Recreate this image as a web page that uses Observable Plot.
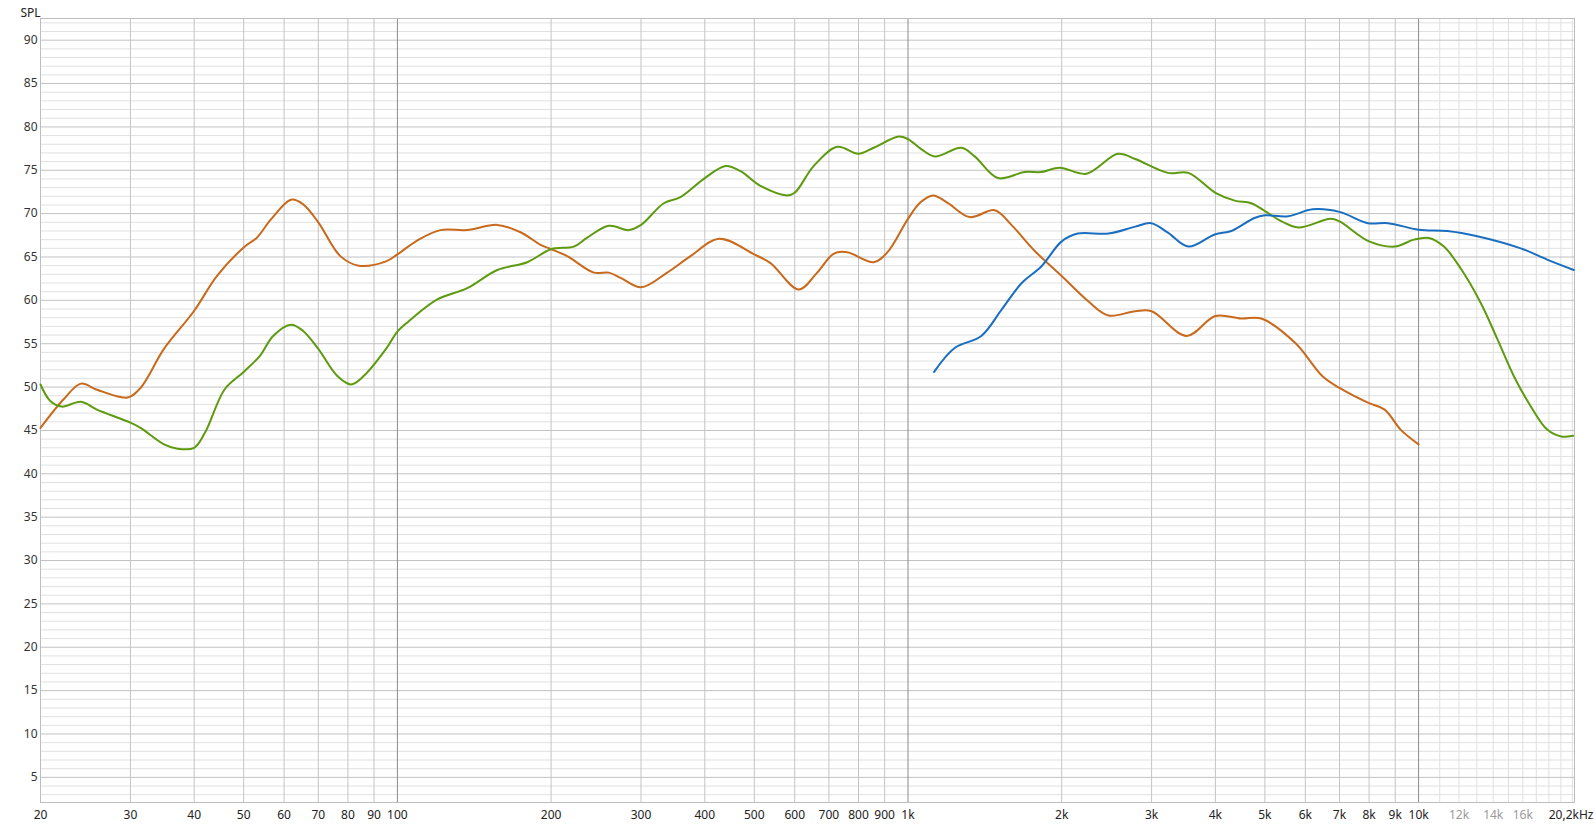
<!DOCTYPE html>
<html><head><meta charset="utf-8">
<script src="https://cdn.jsdelivr.net/npm/d3@7"></script>
<script src="https://cdn.jsdelivr.net/npm/@observablehq/plot@0.6"></script>
<style>html,body{margin:0;padding:0;background:#fff} svg{display:block}</style>
</head><body><div id="chart"></div>
<script>
// Woofer (orange)
const wooferFreq = [20, 22.2, 24, 25.8, 29.6, 31.4, 34.9, 40, 44.3, 50, 53, 56.5, 61.9, 65.3, 70, 77.3, 84, 95, 100, 109.3, 121.4, 137, 156.9, 174.3, 190.7, 200, 215, 242.6, 259.5, 273.6, 300, 337.6, 375, 426.3, 500, 538, 611, 664, 716, 760, 857, 910, 1000, 1058, 1120, 1198, 1321, 1479, 1594, 1771, 2000, 2254, 2470, 2786, 3000, 3514, 4000, 4493, 4920, 5730, 6484, 7000, 7957, 8581, 9220, 10000];
const wooferSpl = [45.3, 48.6, 50.4, 49.7, 48.8, 49.9, 54.4, 58.8, 62.8, 66.1, 67.2, 69.3, 71.6, 71.1, 69.0, 65.1, 64.0, 64.5, 65.3, 66.9, 68.1, 68.1, 68.7, 67.85, 66.4, 65.9, 65.1, 63.2, 63.2, 62.6, 61.5, 63.2, 65.1, 67.1, 65.3, 64.3, 61.25, 63.2, 65.4, 65.55, 64.4, 65.5, 69.4, 71.3, 72.1, 71.2, 69.6, 70.4, 68.7, 65.7, 62.8, 59.9, 58.25, 58.75, 58.75, 55.9, 58.2, 57.9, 57.9, 55.1, 51.25, 49.9, 48.2, 47.4, 45.1, 43.4];

// Full system (green)
const systemFreq = [20, 20.9, 22, 24, 25.8, 30, 31.4, 34.9, 37.1, 40, 42, 45.9, 50, 53.8, 57.1, 61.9, 65.3, 70, 76.2, 81.1, 86, 95, 100, 105.3, 119.7, 137, 156.9, 179.6, 200, 221.6, 235, 259.5, 284, 300, 332.5, 358.4, 400, 439.5, 470, 514, 580, 600, 654, 727, 800, 857, 959.6, 1000, 1058, 1128, 1272, 1351, 1500, 1693, 1824, 1982, 2235, 2578, 2786, 3229, 3540, 4000, 4364, 4700, 5000, 5394, 5817, 6724, 7000, 8000, 8985, 9790, 10475, 11209, 12085, 13237, 14274, 15385, 16577, 17856, 19033, 20078];
const systemSpl = [50.3, 48.4, 47.75, 48.3, 47.4, 45.9, 45.3, 43.4, 42.9, 43.0, 44.75, 49.75, 51.75, 53.6, 55.9, 57.2, 56.5, 54.4, 51.3, 50.3, 51.3, 54.4, 56.4, 57.6, 60.1, 61.4, 63.5, 64.4, 65.9, 66.2, 67.2, 68.6, 68.1, 68.7, 71.2, 71.9, 74.1, 75.5, 74.9, 73.2, 72.1, 72.4, 75.5, 77.7, 76.9, 77.6, 78.9, 78.6, 77.5, 76.6, 77.6, 76.6, 74.1, 74.8, 74.8, 75.3, 74.6, 76.9, 76.3, 74.7, 74.7, 72.4, 71.5, 71.2, 70.3, 69.1, 68.4, 69.4, 69.1, 66.8, 66.2, 67.0, 67.2, 66.2, 63.7, 59.7, 55.5, 51.2, 47.8, 45.1, 44.3, 44.4];

// Tweeter (blue)
const tweeterFreq = [1125, 1234, 1392, 1524, 1670, 1824, 2000, 2150, 2470, 2786, 2995, 3229, 3540, 3988, 4299, 4771, 5000, 5553, 6203, 7000, 7957, 8716, 10000, 11382, 13028, 15848, 17856, 20134];
const tweeterSpl = [51.75, 54.5, 55.9, 58.9, 62.0, 63.9, 66.8, 67.7, 67.7, 68.5, 68.9, 67.8, 66.2, 67.6, 68.0, 69.5, 69.8, 69.7, 70.5, 70.2, 68.9, 68.9, 68.15, 68.0, 67.4, 66.0, 64.7, 63.5];

// Axis ticks and labels
const xTicks = [20, 30, 40, 50, 60, 70, 80, 90, 100, 200, 300, 400, 500, 600, 700, 800, 900, 1000, 2000, 3000, 4000, 5000, 6000, 7000, 8000, 9000, 10000];
const xTickLabels = ["20", "30", "40", "50", "60", "70", "80", "90", "100", "200", "300", "400", "500", "600", "700", "800", "900", "1k", "2k", "3k", "4k", "5k", "6k", "7k", "8k", "9k", "10k"];
const xLightTicks = [12000, 14000, 16000];
const xLightLabels = ["12k", "14k", "16k"];
const xEndTick = [20200];
const xEndLabel = ["20,2kHz"];
const yTicks = [5, 10, 15, 20, 25, 30, 35, 40, 45, 50, 55, 60, 65, 70, 75, 80, 85, 90];

// Grid positions
const gridDecades = [100, 1000, 10000];
const gridMain = [30, 40, 50, 60, 70, 80, 90, 200, 300, 400, 500, 600, 700, 800, 900, 2000, 3000, 4000, 5000, 6000, 7000, 8000, 9000];
const gridLight = [11000, 12000, 13000, 14000, 15000, 16000, 17000, 18000, 19000, 20000];
const yMinor = d3.range(3, 93).filter(v => v % 5 !== 0);

const rows = (f, v, s) => f.map((x, i) => ({freq: x, spl: v[i], series: s}));
const woofer = rows(wooferFreq, wooferSpl, "woofer");
const system = rows(systemFreq, systemSpl, "system");
const tweeter = rows(tweeterFreq, tweeterSpl, "tweeter");

const chart = Plot.plot({
  width: 1595,
  height: 826,
  marginLeft: 40,
  marginRight: 21,
  marginTop: 18,
  marginBottom: 24,
  style: {fontFamily: "'Liberation Sans Narrow', 'Noto Sans', sans-serif", fontSize: "12px", color: "#222", background: "#fff"},
  x: {type: "log", domain: [20, 20200], label: null, axis: null},
  y: {domain: [2.1, 92.5], label: null, axis: null},
  marks: [
    Plot.ruleY(yMinor, {stroke: "#e1e1e1", strokeWidth: 1}),
    Plot.ruleX(gridLight, {stroke: "#e0e0e0", strokeWidth: 1}),
    Plot.ruleY(yTicks, {stroke: "#c2c2c2", strokeWidth: 1}),
    Plot.ruleX(gridMain, {stroke: "#c4c4c4", strokeWidth: 1}),
    Plot.ruleX(gridDecades, {stroke: "#8a8a8a", strokeWidth: 1}),
    Plot.frame({stroke: "#bdbdbd"}),
    Plot.text(yTicks, {y: d => d, text: d => String(d), frameAnchor: "left", textAnchor: "end", dx: -3, fill: "#333"}),
    Plot.text(xTicks, {x: d => d, text: (d, i) => xTickLabels[i], frameAnchor: "bottom", lineAnchor: "top", dy: 8, fill: "#222"}),
    Plot.text(xLightTicks, {x: d => d, text: (d, i) => xLightLabels[i], frameAnchor: "bottom", lineAnchor: "top", dy: 8, fill: "#9a9a9a"}),
    Plot.text(xEndTick, {x: d => d, text: (d, i) => xEndLabel[i], frameAnchor: "bottom", lineAnchor: "top", textAnchor: "end", dx: 19, dy: 8, fill: "#222"}),
    Plot.text(["SPL"], {frameAnchor: "top-left", dx: -20, dy: -10, textAnchor: "start", fill: "#222"}),
    Plot.line(woofer, {x: "freq", y: "spl", stroke: "#c8691c", strokeWidth: 2, curve: "catmull-rom"}),
    Plot.line(system, {x: "freq", y: "spl", stroke: "#5e9a10", strokeWidth: 2, curve: "catmull-rom"}),
    Plot.line(tweeter, {x: "freq", y: "spl", stroke: "#1a6ec0", strokeWidth: 2, curve: "catmull-rom"})
  ]
});
document.getElementById("chart").appendChild(chart);
</script>
</body></html>
